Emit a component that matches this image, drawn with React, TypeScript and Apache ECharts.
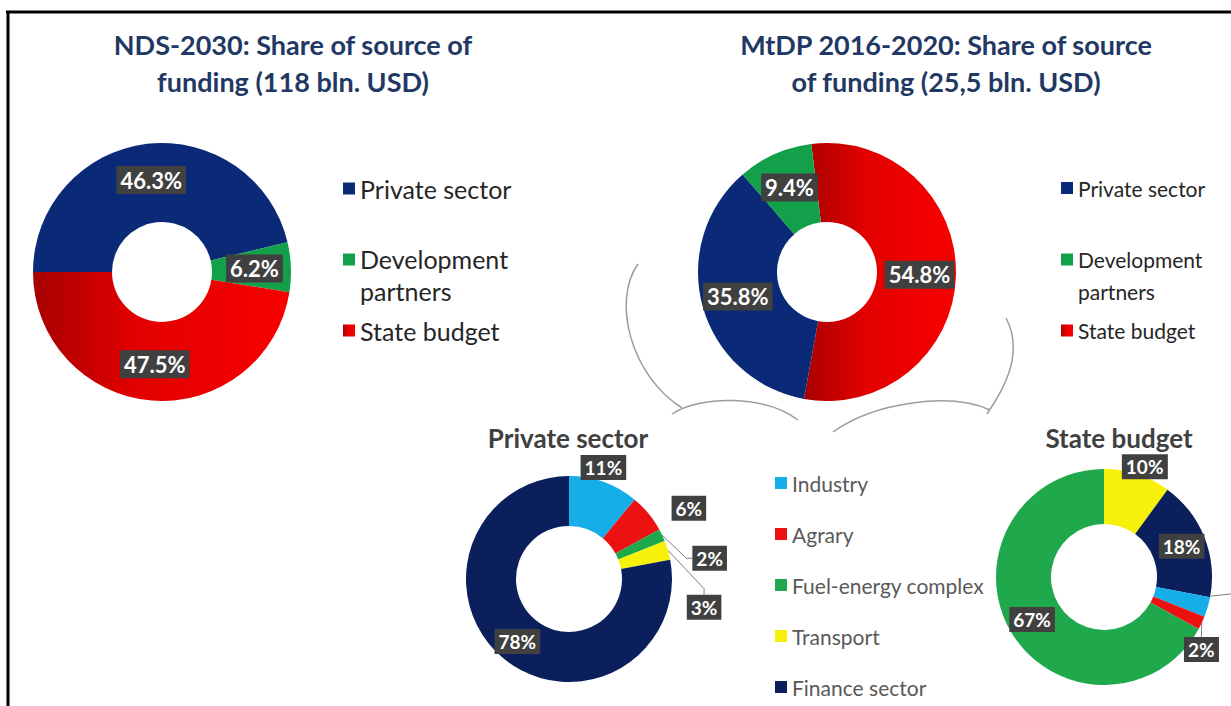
import React, { useEffect, useRef } from 'react';
import * as echarts from 'echarts';

// ---------- data ----------
const ndsCategories = ['Private sector', 'Development partners', 'State budget'];
const ndsValues = [46.3, 6.2, 47.5];

const mtdpCategories = ['State budget', 'Private sector', 'Development partners'];
const mtdpValues = [54.8, 35.8, 9.4];

const sectorLegend = ['Industry', 'Agrary', 'Fuel-energy complex', 'Transport', 'Finance sector'];

const privateCategories = ['Industry', 'Agrary', 'Fuel-energy complex', 'Transport', 'Finance sector'];
const privateValues = [11, 6, 2, 3, 78];

const stateCategories = ['Transport', 'Finance sector', 'Industry', 'Agrary', 'Fuel-energy complex'];
const stateValues = [10, 18, 3, 2, 67];

const titleNds = 'NDS-2030: Share of source of\nfunding (118 bln. USD)';
const titleMtdp = 'MtDP 2016-2020: Share of source\nof funding (25,5 bln. USD)';
const titlePrivate = 'Private sector';
const titleState = 'State budget';

// ---------- styles ----------
const redGradient = {
  type: 'linear',
  x: 0, y: 0, x2: 1, y2: 0,
  colorStops: [
    { offset: 0, color: '#a80000' },
    { offset: 0.4, color: '#e20000' },
    { offset: 1, color: '#f80000' },
  ],
};

const colorOf: Record<string, any> = {
  'Private sector': '#0a2a78',
  'Development partners': '#13a04a',
  'State budget': redGradient,
  Industry: '#16aee8',
  Agrary: '#ee1111',
  'Fuel-energy complex': '#1fa84c',
  Transport: '#f6f00a',
  'Finance sector': '#0b1f5c',
};

// label nudges (styling, in px) for the small outside labels, as in the original
const privateLabelNudge: Record<string, number[]> = {
  Industry: [-37, -7],
  Agrary: [10, 0],
  'Fuel-energy complex': [15, 23],
  Transport: [2, 45],
};
const stateLabelNudge: Record<string, number[]> = {
  Transport: [-29, 0],
  Agrary: [-36, 23],
};
const privateNoLine = ['Industry', 'Agrary'];
const stateNoLine: string[] = [];
// in the original, this label lies beyond the right edge of the picture
const stateHiddenLabel = ['Industry'];

const FONT = 'Lato';

const boxLabel = {
  color: '#ffffff',
  fontFamily: FONT,
  fontWeight: 'bold',
  backgroundColor: '#404040',
  padding: [4, 4, 2, 4],
};

const iconTop = 'path://M0,0h12v12h-12z M0,43h0.01';
const iconMid = 'path://M0,0h0.01 M0,15.5h12v12h-12z M0,43h0.01';

function topData(names: string[], values: number[]) {
  return names.map((name, i) => ({
    name,
    value: values[i],
    itemStyle: { color: colorOf[name] },
  }));
}

function bottomData(
  names: string[],
  values: number[],
  noLine: string[],
  fixWidth: boolean,
  hidden: string[] = []
) {
  return names.map((name, i) => {
    const text = values[i] + '%';
    let label: any;
    if (values[i] >= 15) label = { position: 'inside' };
    else {
      label = { position: 'outside' };
      if (fixWidth) {
        label.width = 11 * (text.length - 1) + 16;
        label.overflow = 'none';
      }
    }
    if (hidden.indexOf(name) >= 0) label.show = false;
    return {
      name,
      value: values[i],
      itemStyle: { color: colorOf[name] },
      label,
      labelLine: noLine.indexOf(name) >= 0 || hidden.indexOf(name) >= 0 ? { show: false } : undefined,
    };
  });
}

function nudgeLayout(names: string[], nudges: Record<string, number[]>) {
  return (p: any) => {
    const s = nudges[names[p.dataIndex]];
    if (!s) return {};
    const r = p.labelRect;
    return {
      x: r.x + s[0],
      y: r.y + r.height / 2 + s[1],
      align: 'left',
      verticalAlign: 'middle',
    };
  };
}

const topLabel = {
  ...boxLabel,
  position: 'inside',
  fontSize: 22,
  formatter: (p: any) => p.value.toFixed(1) + '%',
};

const bottomLabel = {
  ...boxLabel,
  fontSize: 19,
  formatter: (p: any) => p.value + '%',
};

const bottomLabelLine = {
  length: 8,
  length2: 6,
  lineStyle: { color: '#808080', width: 1 },
};

function topLegends(left: number, fontSize: number) {
  const text = { fontFamily: FONT, fontSize, color: '#262626' };
  return [
    {
      data: ['Private sector'],
      left,
      top: 176,
      orient: 'vertical',
      padding: 0,
      icon: 'rect',
      itemWidth: 12,
      itemHeight: 12,
      selectedMode: false,
      itemStyle: { borderWidth: 0 },
      textStyle: { ...text, lineHeight: 24 },
    },
    {
      data: [
        { name: 'Development partners', icon: iconTop },
        { name: 'State budget', icon: iconMid },
      ],
      left,
      top: 243,
      orient: 'vertical',
      padding: 0,
      itemWidth: 12,
      itemHeight: 43,
      itemGap: 2,
      selectedMode: false,
      itemStyle: { borderWidth: 0 },
      formatter: (name: string) => name.replace('Development ', 'Development\n'),
      textStyle: { ...text, lineHeight: 32 },
    },
  ];
}

function titleItem(text: string, left: number, top: number, size: number, color: string, lineHeight: number) {
  return {
    text,
    left,
    top,
    textAlign: 'center',
    padding: 0,
    textStyle: { fontFamily: FONT, fontSize: size, fontWeight: 'bold', color, lineHeight },
  };
}

const braceStyle = { stroke: '#9c9c9c', lineWidth: 1.5, fill: null };

export default function App() {
  const ref = useRef<HTMLDivElement>(null);

  useEffect(() => {
    if (!ref.current) return;
    const chart = echarts.init(ref.current, null, { renderer: 'svg' });

    const option: any = {
      animation: false,
      backgroundColor: '#ffffff',
      title: [
        titleItem(titleNds, 293, 26, 27, '#1f3864', 37),
        titleItem(titleMtdp, 946, 26, 27, '#1f3864', 37),
        titleItem(titlePrivate, 568, 423, 26, '#404040', 30),
        titleItem(titleState, 1119, 423, 26, '#404040', 30),
      ],
      legend: [
        ...topLegends(343, 25),
        ...topLegends(1061, 21),
        {
          data: sectorLegend,
          left: 775,
          top: 471,
          orient: 'vertical',
          padding: 0,
          icon: 'rect',
          itemWidth: 12,
          itemHeight: 12,
          itemGap: 27,
          selectedMode: false,
          itemStyle: { borderWidth: 0 },
          textStyle: { fontFamily: FONT, fontSize: 21, color: '#595959', lineHeight: 24 },
        },
      ],
      graphic: [
        { type: 'line', shape: { x1: 6, y1: 12, x2: 1231, y2: 12 }, style: { stroke: '#000', lineWidth: 3 } },
        { type: 'line', shape: { x1: 8, y1: 11, x2: 8, y2: 706 }, style: { stroke: '#000', lineWidth: 3 } },
        { type: 'bezierCurve', shape: { x1: 638, y1: 264, cpx1: 612, cpy1: 300, cpx2: 630, cpy2: 375, x2: 682, y2: 408 }, style: braceStyle },
        { type: 'bezierCurve', shape: { x1: 672, y1: 414, cpx1: 700, cpy1: 395, cpx2: 765, cpy2: 395, x2: 798, y2: 420 }, style: braceStyle },
        { type: 'bezierCurve', shape: { x1: 1006, y1: 318, cpx1: 1026, cpy1: 355, cpx2: 1000, cpy2: 395, x2: 987, y2: 414 }, style: braceStyle },
        { type: 'bezierCurve', shape: { x1: 990, y1: 410, cpx1: 950, cpy1: 392, cpx2: 875, cpy2: 402, x2: 833, y2: 432 }, style: braceStyle },
        // leader line of the State budget "Industry" label, which runs past the right edge
        { type: 'line', shape: { x1: 1211, y1: 596, x2: 1231, y2: 594 }, style: { stroke: '#808080', lineWidth: 1 } },
      ],
      series: [
        {
          type: 'pie',
          name: 'NDS-2030 shares',
          center: [162, 272],
          radius: [50, 129],
          startAngle: 180,
          clockwise: true,
          silent: true,
          label: topLabel,
          labelLine: { show: false },
          data: topData(ndsCategories, ndsValues),
        },
        {
          type: 'pie',
          name: 'MtDP 2016-2020 shares',
          center: [827, 272],
          radius: [50, 129],
          startAngle: 97,
          clockwise: true,
          silent: true,
          label: topLabel,
          labelLine: { show: false },
          data: topData(mtdpCategories, mtdpValues),
        },
        {
          type: 'pie',
          name: 'Private sector breakdown',
          center: [569, 579],
          radius: [53, 103],
          startAngle: 90,
          clockwise: true,
          silent: true,
          avoidLabelOverlap: true,
          label: bottomLabel,
          labelLine: bottomLabelLine,
          labelLayout: nudgeLayout(privateCategories, privateLabelNudge),
          data: bottomData(privateCategories, privateValues, privateNoLine, false),
        },
        {
          type: 'pie',
          name: 'State budget breakdown',
          center: [1104, 577],
          radius: [53, 108],
          startAngle: 90,
          clockwise: true,
          silent: true,
          avoidLabelOverlap: true,
          label: bottomLabel,
          labelLine: bottomLabelLine,
          labelLayout: nudgeLayout(stateCategories, stateLabelNudge),
          data: bottomData(stateCategories, stateValues, stateNoLine, true, stateHiddenLabel),
        },
      ],
    };

    chart.setOption(option);
    return () => chart.dispose();
  }, []);

  return (
    <div
      ref={ref}
      style={{ position: 'absolute', left: 0, top: 0, width: 1231, height: 706, background: '#fff' }}
    />
  );
}
